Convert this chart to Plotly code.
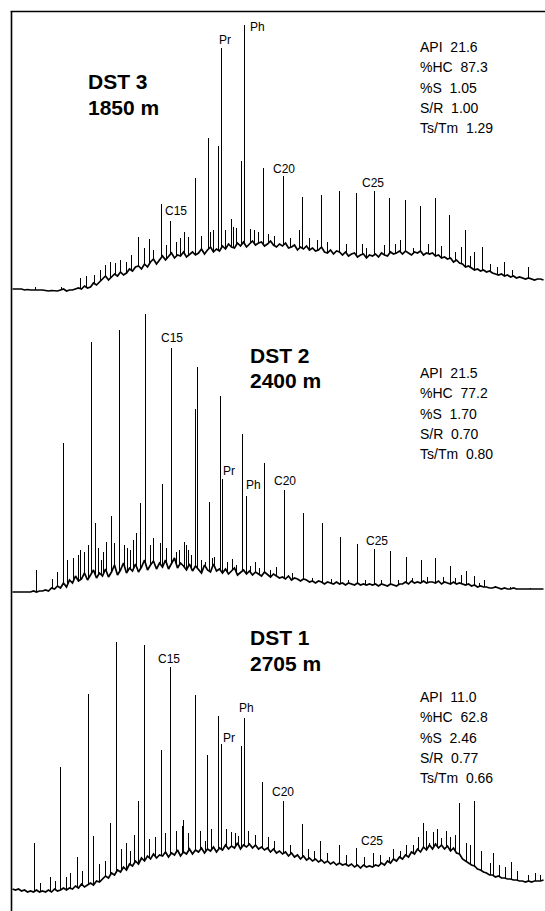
import plotly.graph_objects as go

W, H = 545, 911
FONT = "Liberation Sans, Arial, Helvetica, sans-serif"

# ---------------- data (retention position, detector response) ----------------
RET_START, RET_STEP = 12, 3

# DST 3 (1850 m) – baseline / unresolved hump trace
DST3_TRACE = [11, 11, 10.5, 11, 10, 10.5, 10, 10, 10.5, 10,
              10, 9.5, 9, 9.5, 9, 9, 10, 11, 9, 10,
              10, 11, 12, 11, 14, 12, 13, 17, 15, 18,
              21, 24, 20, 23, 26, 24, 28, 25, 27, 31,
              29, 33, 34, 31, 36, 33, 38, 41, 36, 40,
              44, 40, 43, 47, 42, 45, 44, 48, 43, 46,
              48, 45, 47, 51, 46, 50, 53, 48, 51, 49,
              54, 51, 56, 53, 52, 57, 54, 58, 53, 56,
              59, 55, 57, 58, 54, 56, 59, 55, 53, 56,
              54, 57, 52, 53, 55, 50, 53, 51, 54, 50,
              52, 49, 50, 53, 48, 47, 50, 46, 49, 48,
              45, 48, 44, 46, 47, 43, 45, 46, 42, 45,
              44, 46, 43, 47, 45, 44, 48, 46, 47, 49,
              46, 49, 47, 45, 48, 47, 49, 45, 47, 46,
              47, 44, 45, 42, 43, 41, 42, 38, 40, 37,
              36, 33, 34, 32, 30, 31, 29, 30, 28, 29,
              27, 26, 25, 26, 24, 25, 23, 24, 22, 23,
              22, 21, 22, 21, 20, 21, 21, 20]
DST3_PEAK_RT = [35, 61, 80, 86, 94, 100, 105, 110, 115, 120,
                126, 131, 138, 144, 149, 153, 161, 166, 170, 176,
                180, 184, 188, 195, 201, 208, 210, 213, 218, 221,
                225, 231, 233, 236, 241, 244, 250, 254, 258, 263,
                268, 274, 283, 290, 299, 302, 309, 317, 321, 327,
                339, 346, 356, 362, 366, 374, 384, 389, 395, 400,
                405, 413, 420, 428, 435, 441, 449, 455, 461, 465,
                470, 474, 482, 490, 497, 504, 512, 528]
DST3_PEAK_H = [13, 13, 22, 24, 25, 30, 35, 38, 37, 40,
               38, 45, 63, 52, 61, 50, 96, 55, 79, 58,
               62, 68, 63, 122, 64, 162, 68, 70, 154, 252,
               70, 81, 73, 72, 139, 275, 71, 70, 68, 132,
               66, 64, 124, 62, 70, 103, 62, 60, 105, 58,
               109, 56, 107, 56, 52, 109, 55, 102, 56, 60,
               100, 52, 94, 56, 102, 54, 85, 48, 53, 70,
               44, 48, 53, 36, 33, 38, 30, 33]

# DST 2 (2400 m)
DST2_TRACE = [8, 8, 8.5, 8, 8, 8.5, 8, 9, 8, 9,
              9, 10, 9, 12, 11, 14, 12, 17, 13, 20,
              17, 24, 19, 21, 27, 20, 25, 30, 22, 27,
              24, 31, 23, 28, 35, 25, 30, 37, 27, 32,
              29, 36, 28, 33, 40, 30, 35, 39, 31, 37,
              33, 40, 31, 36, 42, 32, 37, 34, 30, 36,
              29, 34, 31, 27, 35, 30, 28, 36, 29, 31,
              27, 31, 26, 29, 32, 25, 28, 30, 26, 29,
              25, 28, 26, 24, 28, 25, 23, 26, 24, 22,
              23, 21, 24, 20, 22, 21, 19, 21, 20, 18,
              19, 17, 19, 18, 16, 18, 17, 16, 18, 16,
              17, 15, 17, 16, 15, 17, 15, 16, 15, 16,
              15, 16, 14, 16, 15, 14, 16, 15, 14, 16,
              16, 18, 16, 19, 17, 18, 17, 19, 17, 18,
              18, 17, 19, 16, 18, 17, 16, 18, 16, 17,
              16, 15, 16, 14, 15, 13, 14, 13, 13, 12,
              12, 13, 12, 11, 12, 11, 11, 12, 11, 11,
              11, 10.5, 11, 10.5, 11, 11, 10.5, 11]
DST2_PEAK_RT = [36, 52, 57, 63, 67, 73, 78, 80, 84, 88,
                91, 95, 98, 101, 103, 106, 111, 114, 119, 124,
                127, 130, 133, 136, 140, 145, 150, 153, 160, 162,
                166, 171, 176, 179, 184, 186, 188, 191, 195, 197,
                201, 205, 209, 212, 214, 220, 222, 227, 232, 236,
                242, 246, 250, 255, 259, 264, 270, 276, 284, 292,
                303, 312, 322, 331, 340, 348, 357, 365, 374, 381,
                390, 398, 406, 412, 421, 427, 435, 443, 450, 455,
                461, 466, 474, 479, 484, 495, 510, 530]
DST2_PEAK_H = [30, 21, 28, 157, 40, 42, 45, 50, 48, 55,
               258, 77, 52, 40, 48, 58, 84, 57, 270, 55,
               52, 50, 60, 67, 97, 286, 55, 62, 57, 116,
               52, 252, 48, 50, 58, 55, 50, 45, 191, 233,
               40, 38, 98, 42, 43, 204, 121, 38, 41, 35,
               166, 104, 34, 38, 32, 137, 30, 33, 110, 27,
               87, 22, 77, 21, 63, 20, 56, 20, 51, 20,
               49, 20, 43, 22, 40, 23, 42, 23, 34, 22,
               25, 29, 24, 17, 20, 14, 13, 12]

# DST 1 (2705 m)
DST1_TRACE = [22, 21, 22, 20, 21, 19, 20, 19, 21, 19,
              20, 19, 21, 19, 22, 20, 21, 23, 21, 23,
              22, 25, 23, 27, 24, 26, 28, 26, 30, 29,
              32, 35, 33, 38, 36, 41, 39, 44, 41, 47,
              45, 50, 47, 53, 50, 55, 52, 57, 53, 56,
              55, 59, 54, 58, 56, 61, 55, 59, 57, 62,
              57, 61, 59, 63, 58, 62, 60, 64, 59, 63,
              61, 66, 62, 65, 63, 68, 62, 66, 64, 67,
              63, 66, 62, 64, 61, 63, 59, 62, 58, 60,
              57, 59, 55, 58, 54, 56, 52, 55, 51, 53,
              50, 52, 49, 51, 48, 50, 47, 49, 46, 48,
              46, 47, 45, 47, 44, 46, 43, 46, 44, 45,
              44, 46, 45, 48, 46, 50, 48, 52, 50, 54,
              52, 56, 54, 59, 57, 62, 59, 64, 61, 66,
              62, 67, 63, 66, 62, 65, 60, 63, 58, 57,
              52, 50, 48, 46, 45, 42, 41, 39, 38, 36,
              36, 34, 35, 33, 33, 32, 32, 31, 31, 30,
              30, 29, 30, 29, 30, 30, 30, 31]
DST1_PEAK_RT = [34, 40, 50, 55, 60, 66, 70, 77, 82, 88,
                93, 99, 105, 110, 116, 121, 126, 130, 134, 138,
                144, 149, 155, 161, 165, 170, 176, 182, 183, 188,
                195, 200, 205, 207, 211, 218, 221, 226, 231, 235,
                238, 241, 244, 248, 255, 262, 268, 274, 283, 290,
                297, 302, 308, 314, 320, 327, 339, 346, 356, 364,
                373, 380, 389, 393, 400, 406, 413, 418, 423, 426,
                429, 433, 437, 441, 446, 450, 455, 459, 466, 470,
                474, 481, 490, 493, 499, 505, 511, 517, 528, 535,
                540]
DST1_PEAK_H = [68, 28, 34, 30, 144, 34, 38, 54, 40, 217,
               75, 47, 50, 88, 269, 62, 68, 60, 76, 110,
               266, 72, 74, 161, 78, 244, 80, 85, 91, 78,
               216, 80, 70, 156, 82, 195, 167, 82, 79, 78,
               75, 165, 193, 80, 76, 129, 74, 70, 110, 66,
               56, 87, 62, 60, 70, 58, 66, 56, 63, 54,
               58, 56, 54, 62, 60, 66, 66, 74, 88, 80,
               68, 79, 82, 73, 80, 74, 76, 108, 68, 66,
               110, 60, 48, 58, 46, 44, 49, 40, 36, 38,
               36]

SAMPLES = ["DST 3", "DST 2", "DST 1"]
DEPTHS = ["1850 m", "2400 m", "2705 m"]
STAT_NAMES = ["API", "%HC", "%S", "S/R", "Ts/Tm"]
STAT_VALUES = [["21.6", "87.3", "1.05", "1.00", "1.29"],
               ["21.5", "77.2", "1.70", "0.70", "0.80"],
               ["11.0", "62.8", "2.46", "0.77", "0.66"]]
PEAK_NAMES = ["C15", "Pr", "Ph", "C20", "C25"]

TRACES = [DST3_TRACE, DST2_TRACE, DST1_TRACE]
PEAK_RT = [DST3_PEAK_RT, DST2_PEAK_RT, DST1_PEAK_RT]
PEAK_H = [DST3_PEAK_H, DST2_PEAK_H, DST1_PEAK_H]

# ---------------- layout geometry (pixels) ----------------
PANEL_TOP = [0, 300, 600]
PANEL_BOT = [300, 600, 911]
TITLE_POS = [(86, 82, 108), (248, 355, 381), (248, 637, 663)]   # x, y line1, y line2
STATS_POS = [(418, 47), (418, 373), (418, 697)]                 # x, first-line y
STAT_DY = 20.3
LABEL_POS = [
    [(176, 211), (225, 40), (257, 27), (284, 169), (373, 183)],
    [(172, 338), (229, 471), (253, 485), (285, 481), (377, 541)],
    [(169, 659), (229, 738), (246, 708), (283, 792), (372, 841)],
]

fig = go.Figure()
layout = dict(
    width=W, height=H, margin=dict(l=0, r=0, t=0, b=0),
    paper_bgcolor="white", plot_bgcolor="rgba(0,0,0,0)", showlegend=False,
)

annotations = []
for k in range(3):
    sfx = "" if k == 0 else str(k + 1)
    xa, ya = "x" + sfx, "y" + sfx
    top, bot = PANEL_TOP[k], PANEL_BOT[k]
    layout["xaxis" + sfx] = dict(range=[-0.5, W - 0.5], visible=False, fixedrange=True,
                                 domain=[0, 1], anchor=ya)
    layout["yaxis" + sfx] = dict(range=[0, bot - top], visible=False, fixedrange=True,
                                 domain=[1 - bot / H, 1 - top / H], anchor=xa)

    # resolved peaks as thin spikes
    sx, sy = [], []
    for rt, h in zip(PEAK_RT[k], PEAK_H[k]):
        sx += [rt, rt, None]
        sy += [0, h, None]
    fig.add_trace(go.Scatter(x=sx, y=sy, mode="lines", xaxis=xa, yaxis=ya,
                             line=dict(color="black", width=1), hoverinfo="skip"))
    # baseline / hump (white fill hides the spike feet)
    tr = TRACES[k]
    rx = [RET_START + RET_STEP * i for i in range(len(tr))]
    fig.add_trace(go.Scatter(x=rx, y=tr, mode="lines", xaxis=xa, yaxis=ya,
                             fill="tozeroy", fillcolor="white",
                             line=dict(color="black", width=1.7), hoverinfo="skip"))

    # sample titles
    tx, ty1, ty2 = TITLE_POS[k]
    for txt, ty in ((SAMPLES[k], ty1), (DEPTHS[k], ty2)):
        annotations.append(dict(text="<b>%s</b>" % txt, x=tx / W, y=1 - ty / H,
                                xref="paper", yref="paper", xanchor="left", yanchor="middle",
                                showarrow=False, font=dict(family=FONT, size=21, color="black")))
    # stats block
    sx0, sy0 = STATS_POS[k]
    for j, (nm, val) in enumerate(zip(STAT_NAMES, STAT_VALUES[k])):
        annotations.append(dict(text="%s\u00a0 %s" % (nm, val), x=sx0 / W,
                                y=1 - (sy0 + j * STAT_DY) / H,
                                xref="paper", yref="paper", xanchor="left", yanchor="middle",
                                showarrow=False, font=dict(family=FONT, size=14, color="black")))
    # peak labels
    for nm, (lx, ly) in zip(PEAK_NAMES, LABEL_POS[k]):
        annotations.append(dict(text=nm, x=lx / W, y=1 - ly / H,
                                xref="paper", yref="paper", xanchor="center", yanchor="middle",
                                showarrow=False, font=dict(family=FONT, size=12, color="black")))

layout["annotations"] = annotations
layout["shapes"] = [
    dict(type="line", xref="paper", yref="paper", x0=11.5 / W, x1=11.5 / W,
         y0=0, y1=1 - 11 / H, line=dict(color="black", width=1.6)),
    dict(type="line", xref="paper", yref="paper", x0=10.7 / W, x1=1,
         y0=1 - 11.5 / H, y1=1 - 11.5 / H, line=dict(color="black", width=1.6)),
]
fig.update_layout(**layout)
fig.write_html("out.html", config={"displayModeBar": False})
